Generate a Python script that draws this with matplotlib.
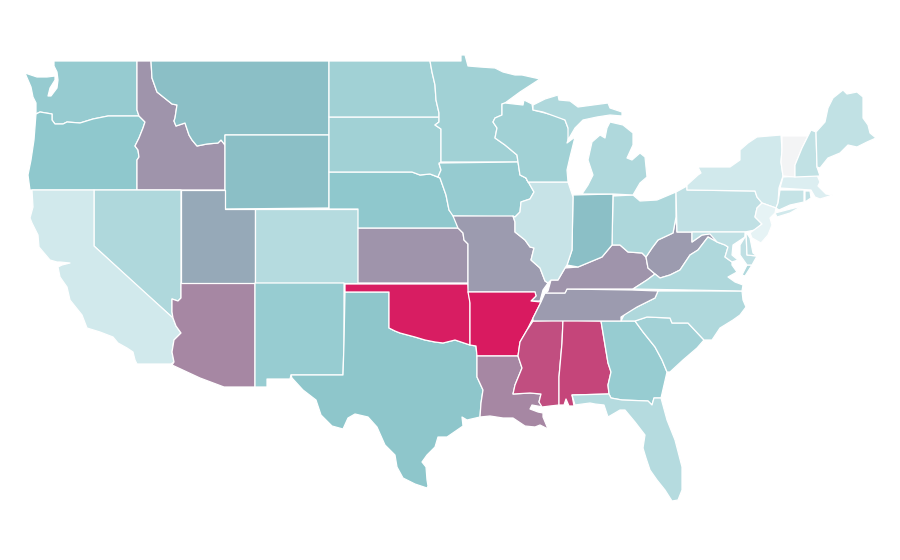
import matplotlib
matplotlib.use("Agg")
import matplotlib.pyplot as plt
from matplotlib.colors import LinearSegmentedColormap

# outlines, (x, y) in image pixels
WA = [(54,61),(137,61),(137,110),(139,116),(108,116),(93,119),(80,123),(67,122),(63,124),(55,124),(52,120),(52,114),(40,112),(36,114),(36,103),(33,97),(31,87),(25,73),(37,77),(47,77),(55,76),(55,80),(50,88),(48,96),(51,96),(57,88),(58,80),(57,72),(54,66)]
OR = [(36,114),(40,112),(52,114),(52,120),(55,124),(63,124),(67,122),(80,123),(93,119),(108,116),(139,116),(145,122),(143,128),(139,138),(135,146),(138,150),(139,157),(137,160),(137,190),(30,190),(28,175),(31,160),(34,140)]
ID = [(137,61),(151,61),(152,78),(157,92),(167,100),(172,104),(177,105),(175,118),(174,121),(176,126),(185,123),(189,135),(192,140),(197,146),(207,144),(218,143),(221,140),(225,145),(225,190),(137,190),(137,160),(139,157),(138,150),(135,146),(139,138),(143,128),(145,122),(139,116),(137,110)]
MT = [(151,61),(329,61),(329,135),(225,135),(225,145),(221,140),(218,143),(207,144),(197,146),(192,140),(189,135),(185,123),(176,126),(174,121),(175,118),(177,105),(172,104),(167,100),(157,92),(152,78)]
WY = [(225,135),(329,135),(329,208),(225,209)]
NV = [(94,190),(181,190),(181,298),(178,301),(172,299),(172,312),(173,318),(145,293),(94,246)]
CA = [(32,190),(94,190),(94,246),(173,318),(176,326),(181,333),(174,340),(172,352),(174,362),(171,364),(137,364),(135,360),(133,352),(127,348),(118,343),(113,337),(100,332),(87,328),(82,315),(70,300),(67,287),(60,277),(58,267),(62,265),(70,263),(60,262),(57,262),(50,260),(39,247),(38,235),(32,223),(30,218),(33,207)]
AZ = [(181,283),(255,283),(255,387),(224,387),(200,378),(172,365),(174,362),(172,352),(174,340),(181,333),(176,326),(173,318),(172,312),(172,299),(178,301),(181,298)]
UT = [(181,190),(225,190),(225,209),(255,209),(255,283),(181,283)]
CO = [(255,209),(358,209),(358,283),(255,283)]
NM = [(255,283),(344,283),(344,343),(343,375),(291,375),(290,379),(267,379),(267,387),(255,387)]
TX = [(345,292),(389,292),(389,328),(395,331),(400,333),(415,337),(425,340),(435,342),(443,343),(455,340),(470,345),(476,346),(477,356),(477,377),(483,390),(481,403),(480,417),(467,420),(462,417),(463,426),(447,437),(438,437),(435,447),(427,455),(422,462),(426,467),(427,480),(428,486),(427,488),(415,484),(403,478),(397,467),(395,455),(385,445),(377,427),(368,417),(355,414),(348,418),(343,429),(332,426),(321,415),(316,400),(303,390),(292,378),(291,375),(343,375),(344,343)]
OK = [(345,284),(468,284),(470,303),(470,345),(455,340),(443,343),(435,342),(425,340),(415,337),(400,333),(395,331),(389,328),(389,292),(345,292)]
KS = [(358,228),(458,228),(463,233),(464,240),(468,244),(468,283),(358,283)]
NE = [(329,172),(412,172),(420,175),(430,174),(440,178),(446,195),(449,210),(455,217),(458,228),(358,228),(358,209),(329,209)]
SD = [(329,117),(439,117),(439,122),(435,125),(441,129),(441,162),(439,164),(441,170),(438,177),(430,174),(420,175),(412,172),(329,172)]
ND = [(329,61),(430,61),(432,72),(435,85),(436,100),(439,113),(439,117),(329,117)]
MN = [(430,61),(461,61),(461,55),(465,55),(468,66),(480,67),(495,68),(503,72),(515,75),(522,75),(540,79),(520,92),(505,103),(502,104),(502,115),(495,118),(493,122),(497,128),(495,138),(505,145),(517,155),(518,162),(441,162),(441,129),(435,125),(439,122),(439,113),(436,100),(435,85),(432,72)]
IA = [(439,163),(518,162),(520,175),(526,178),(534,192),(530,199),(521,202),(520,212),(515,217),(453,216),(449,210),(446,195),(440,178),(438,177),(441,170)]
MO = [(453,216),(513,216),(515,222),(515,232),(525,240),(530,247),(534,248),(531,260),(540,268),(545,281),(548,283),(543,290),(540,301),(531,301),(536,296),(535,292),(468,292),(468,244),(464,240),(463,233),(458,228)]
AR = [(468,292),(535,292),(536,296),(531,301),(541,302),(533,318),(527,330),(520,342),(518,356),(477,356),(476,346),(470,345),(470,303)]
LA = [(477,356),(518,356),(522,368),(515,385),(513,394),(530,393),(541,394),(539,402),(543,407),(532,405),(530,409),(538,412),(543,413),(543,417),(548,429),(540,425),(535,427),(525,426),(513,418),(503,418),(490,416),(480,417),(481,403),(483,390),(477,377)]
MS = [(533,321),(563,320),(562,343),(559,377),(559,405),(550,406),(542,407),(539,402),(541,394),(530,393),(513,394),(515,385),(522,368),(518,356),(520,342),(527,330)]
AL = [(563,320),(601,321),(608,363),(611,372),(608,385),(609,394),(572,395),(574,406),(569,406),(566,399),(564,405),(559,405),(559,377),(562,343)]
GA = [(601,321),(635,321),(643,332),(655,347),(662,360),(667,372),(664,385),(661,398),(654,398),(652,405),(648,401),(622,400),(611,398),(609,394),(608,385),(611,372),(608,363)]
FL = [(572,395),(609,394),(611,398),(622,400),(648,401),(652,405),(654,398),(661,398),(667,420),(675,440),(682,467),(682,490),(678,500),(672,501),(665,490),(657,480),(650,470),(646,458),(643,448),(645,435),(635,422),(625,410),(620,410),(608,417),(604,405),(595,404),(590,403),(575,405)]
SC = [(635,321),(647,317),(670,318),(672,323),(688,323),(704,340),(697,348),(683,360),(670,372),(667,372),(662,360),(655,347),(643,332)]
NC = [(658,291),(742,291),(743,300),(746,307),(740,315),(733,320),(720,328),(712,340),(704,340),(688,323),(672,323),(670,318),(647,317),(635,321),(621,321),(625,313),(637,307),(655,298)]
TN = [(545,293),(565,293),(567,289),(632,290),(658,291),(655,298),(637,307),(621,317),(621,321),(533,321),(533,318),(541,302)]
KY = [(548,291),(551,280),(558,280),(565,268),(578,267),(590,262),(602,257),(612,245),(620,245),(628,252),(642,253),(646,257),(648,268),(655,274),(647,280),(633,289),(567,289),(565,293),(545,293)]
WV = [(646,257),(652,248),(658,240),(673,233),(676,217),(677,232),(692,232),(692,242),(702,235),(712,233),(717,242),(708,237),(698,250),(690,255),(680,270),(670,275),(660,278),(655,274),(648,268)]
OH = [(613,196),(633,195),(640,201),(657,200),(676,192),(676,217),(673,233),(658,240),(652,248),(646,257),(642,253),(628,252),(620,245),(612,245)]
IN = [(573,195),(613,194),(612,245),(602,257),(590,262),(578,267),(567,265),(572,250)]
IL = [(528,182),(568,182),(573,197),(572,250),(567,265),(565,268),(558,280),(551,280),(548,283),(545,281),(540,268),(531,260),(534,248),(530,247),(525,240),(515,232),(515,222),(513,216),(515,217),(520,212),(521,202),(530,199),(534,192),(526,178)]
WI = [(518,162),(517,155),(505,145),(495,138),(497,128),(493,122),(495,118),(502,115),(502,104),(505,103),(523,105),(524,100),(532,104),(533,110),(557,116),(565,120),(568,128),(572,128),(567,143),(575,137),(570,157),(567,170),(568,182),(528,182),(526,178),(520,175)]
MI_UP = [(533,105),(545,99),(558,95),(559,100),(570,101),(578,107),(593,105),(608,103),(610,108),(622,112),(622,116),(610,115),(597,117),(583,120),(575,128),(568,140),(568,128),(565,120),(543,112),(533,110)]
MI_LOW = [(582,194),(613,194),(633,195),(640,183),(647,177),(645,157),(640,153),(632,160),(627,158),(633,145),(633,133),(623,125),(610,122),(607,128),(605,138),(600,135),(592,142),(588,160),(593,175),(588,185)]
PA = [(676,192),(687,186),(687,190),(755,191),(757,197),(762,203),(757,208),(755,217),(762,224),(755,230),(745,232),(677,232)]
NY = [(687,185),(698,175),(701,173),(698,167),(718,167),(730,167),(740,160),(740,150),(748,143),(757,137),(781,135),(782,150),(781,162),(783,176),(779,188),(778,203),(776,208),(762,203),(757,197),(755,191),(687,190)]
NY_LI = [(775,213),(802,206),(790,213),(777,217)]
NJ = [(762,203),(776,208),(775,213),(770,218),(772,225),(768,235),(761,243),(752,238),(750,233),(762,224),(755,217),(757,208)]
CT = [(780,190),(804,190),(804,202),(790,205),(779,210),(776,208),(778,203)]
RI = [(805,191),(810,191),(811,198),(805,202)]
MA = [(783,177),(817,175),(820,182),(818,186),(826,194),(833,195),(820,199),(815,197),(811,190),(780,188)]
VT = [(782,136),(808,136),(802,148),(795,165),(795,177),(783,176),(781,162),(782,150)]
NH = [(811,130),(816,132),(817,167),(820,176),(795,177),(795,165),(802,148),(808,136)]
ME = [(816,132),(825,122),(828,108),(833,98),(843,90),(847,94),(857,92),(863,97),(863,118),(868,125),(870,133),(876,138),(867,142),(857,147),(848,145),(840,153),(828,158),(820,168),(817,167)]
VA = [(633,289),(742,291),(743,285),(735,282),(728,277),(737,272),(732,265),(732,262),(725,257),(728,247),(725,245),(717,242),(708,237),(698,250),(690,255),(680,270),(670,275),(660,278),(655,274),(647,280)]
VA_ES = [(747,265),(752,265),(745,276),(742,275)]
MD = [(692,232),(745,232),(745,237),(733,245),(732,255),(738,260),(732,262),(725,257),(728,247),(725,245),(717,242),(710,234),(702,235),(692,242)]
MD_ES = [(745,237),(746,232),(747,255),(757,256),(752,265),(747,265),(740,255),(740,245)]
DE = [(746,232),(750,238),(753,253),(757,256),(747,255)]

states = ["WA","OR","ID","MT","WY","NV","CA","AZ","UT","CO","NM","TX","OK","KS","NE","SD","ND","MN","IA","MO","AR","LA","MS","AL","GA","FL","SC","NC","TN","KY","WV","OH","IN","IL","WI","MI","PA","NY","NJ","CT","RI","MA","VT","NH","ME","VA","MD","DE"]
values = [.44,.47,.63,.50,.50,.32,.16,.67,.57,.29,.43,.48,.99,.63,.47,.385,.385,.385,.44,.61,1.0,.67,.84,.87,.43,.29,.38,.32,.61,.63,.61,.33,.50,.21,.385,.32,.24,.16,.06,.215,.24,.107,0,.235,.235,.32,.24,.24]
shapes = [[WA],[OR],[ID],[MT],[WY],[NV],[CA],[AZ],[UT],[CO],[NM],[TX],[OK],[KS],[NE],[SD],[ND],[MN],[IA],[MO],[AR],[LA],[MS],[AL],[GA],[FL],[SC],[NC],[TN],[KY],[WV],[OH],[IN],[IL],[WI],[MI_UP,MI_LOW],[PA],[NY,NY_LI],[NJ],[CT],[RI],[MA],[VT],[NH],[ME],[VA,VA_ES],[MD,MD_ES],[DE]]

cmap = LinearSegmentedColormap.from_list("rate", [(0,"#f3f4f5"),(.06,"#e6f3f5"),(.47,"#8fc8cd"),(.5,"#8bc0c6"),(1,"#d91a60")])

fig = plt.figure(figsize=(9, 5.6), dpi=100)
ax = fig.add_axes([0, 0, 1, 1])
for state, value, rings in zip(states, values, shapes):
    for ring in rings:
        xs, ys = zip(*ring)
        ax.fill(xs, ys, facecolor=cmap(value), edgecolor="white", linewidth=0.9, joinstyle="round")
ax.set_xlim(0, 900)
ax.set_ylim(560, 0)
ax.axis("off")
fig.savefig("out.png", dpi=100)
